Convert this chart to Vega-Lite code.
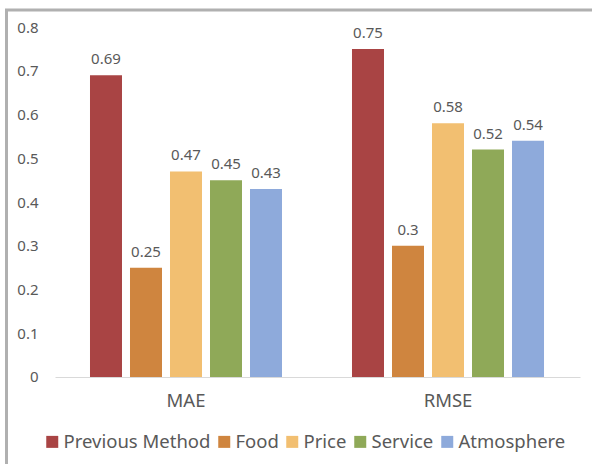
{
  "$schema": "https://vega.github.io/schema/vega-lite/v6.json",
  "autosize": {"type": "none"},
  "padding": {"left": 6.5, "top": 10, "right": 0, "bottom": 0},
  "width": 621,
  "height": 470,
  "background": "white",
  "config": {
    "font": "Noto Sans",
    "view": {"stroke": "#b0b0b0", "strokeWidth": 3}
  },
  "data": {
    "values": [
      {"metric": "MAE", "method": "Previous Method", "value": 0.69},
      {"metric": "MAE", "method": "Food", "value": 0.25},
      {"metric": "MAE", "method": "Price", "value": 0.47},
      {"metric": "MAE", "method": "Service", "value": 0.45},
      {"metric": "MAE", "method": "Atmosphere", "value": 0.43},
      {"metric": "RMSE", "method": "Previous Method", "value": 0.75},
      {"metric": "RMSE", "method": "Food", "value": 0.3},
      {"metric": "RMSE", "method": "Price", "value": 0.58},
      {"metric": "RMSE", "method": "Service", "value": 0.52},
      {"metric": "RMSE", "method": "Atmosphere", "value": 0.54}
    ]
  },
  "encoding": {
    "x": {
      "field": "metric", "type": "nominal", "sort": ["MAE", "RMSE"],
      "scale": {"paddingInner": 0.2366, "paddingOuter": 0.3034},
      "axis": {
        "title": null, "orient": "bottom", "offset": -103, "labelAngle": 0,
        "ticks": false, "tickSize": 0, "labelPadding": 14,
        "labelFontSize": 18.5, "labelColor": "#595959",
        "domainColor": "#d9d9d9", "domainWidth": 1,
        "domainDash": [0, 48.5, 525, 1000], "grid": false
      }
    },
    "xOffset": {
      "field": "method", "type": "nominal",
      "sort": ["Previous Method", "Food", "Price", "Service", "Atmosphere"],
      "scale": {"paddingInner": 0.2, "paddingOuter": 0.1}
    },
    "y": {
      "field": "value", "type": "quantitative",
      "scale": {"domain": [-0.23543, 0.83886], "nice": false, "zero": false},
      "axis": {
        "title": null, "offset": -33.5, "values": [0, 0.1, 0.2, 0.3, 0.4, 0.5, 0.6, 0.7, 0.8],
        "format": "~g", "domain": false, "ticks": false, "tickSize": 0, "labelPadding": 2,
        "grid": false, "labelFontSize": 15, "labelColor": "#595959"
      }
    }
  },
  "layer": [
    {
      "mark": {"type": "bar"},
      "encoding": {
        "y2": {"datum": 0},
        "color": {
          "field": "method", "type": "nominal",
          "sort": ["Previous Method", "Food", "Price", "Service", "Atmosphere"],
          "scale": {
            "domain": ["Previous Method", "Food", "Price", "Service", "Atmosphere"],
            "range": ["#a94444", "#cf853f", "#f2bf71", "#8fa958", "#8eaadb"]
          },
          "legend": {
            "title": null, "orient": "none", "direction": "horizontal",
            "legendX": 36.5, "legendY": 422.5, "padding": 0,
            "symbolType": "square", "symbolSize": 144, "symbolStrokeWidth": 0,
            "labelFontSize": 18.5, "labelColor": "#595959", "labelOffset": 2,
            "columnPadding": 4
          }
        }
      }
    },
    {
      "mark": {"type": "text", "dy": -11, "baseline": "alphabetic", "fontSize": 15, "color": "#595959"},
      "encoding": {
        "text": {"field": "value", "type": "quantitative", "format": "~g"}
      }
    }
  ]
}
